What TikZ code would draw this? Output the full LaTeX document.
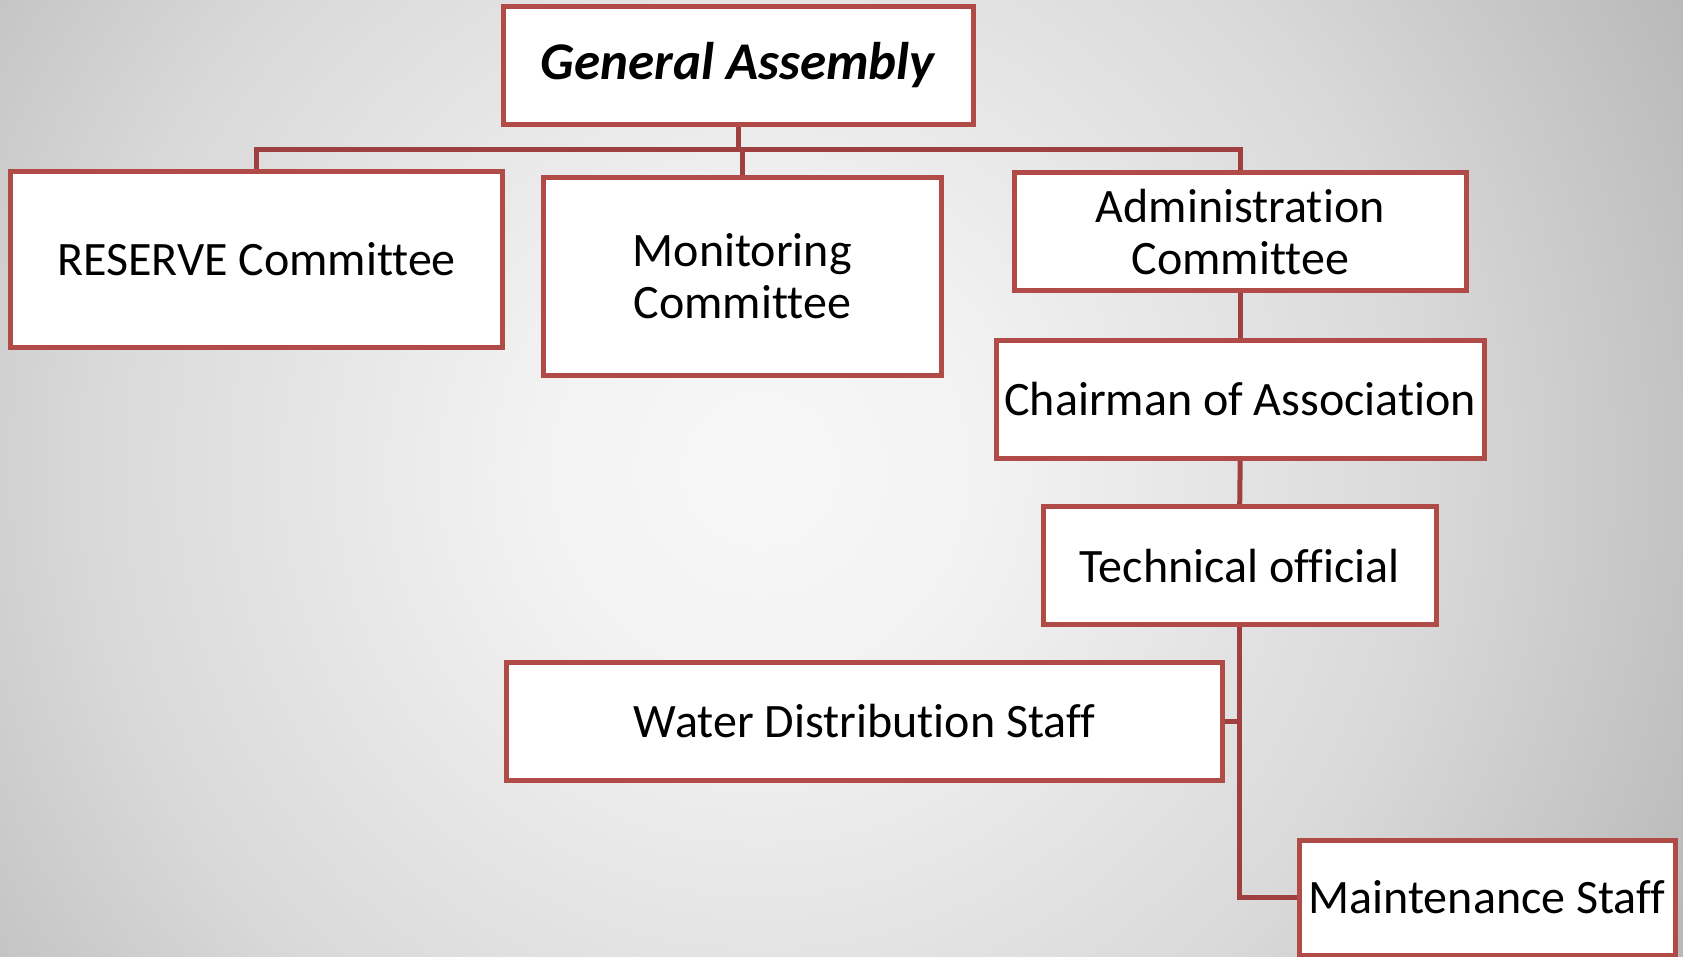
\documentclass[tikz,border=0pt]{standalone}
\usepackage{fontspec}
\setmainfont[Ligatures=NoCommon]{Carlito}
\definecolor{boxred}{HTML}{B04B48}
\definecolor{linered}{HTML}{A03F3F}
\pgfdeclareradialshading{bgshade}{\pgfpoint{0bp}{0bp}}{color(0bp)=(white!97!black); color(6bp)=(white!95!black); color(18bp)=(white!85!black); color(29bp)=(white!71!black); color(34bp)=(white!64!black); color(40bp)=(white!60!black); color(50bp)=(white!58!black)}
\begin{document}
\begin{tikzpicture}[x=1pt,y=-1pt,
  orgbox/.style={draw=boxred, line width=5pt, fill=white, inner sep=0pt, align=center,
    font=\fontsize{48}{52}\selectfont},
  conn/.style={draw=linered, line width=5pt}]
\useasboundingbox (0,0) rectangle (1683,956);
\begin{scope}
\clip (0,0) rectangle (1683,956);
\shade[shading=bgshade] (-170,-460) rectangle (1690,1400);
\end{scope}
% nodes
\node[orgbox, minimum width=470pt, minimum height=118pt, font=\fontsize{53}{58}\selectfont] (ga) at (738.5,65.5) {\textbf{\textit{General Assembly}}};
\node[orgbox, minimum width=491.6pt, minimum height=176pt] (res) at (256.5,259.5) {RESERVE Committee};
\node[orgbox, minimum width=398.3pt, minimum height=198.5pt] (mon) at (742.2,276.5) {Monitoring\\Committee};
\node[orgbox, minimum width=451.8pt, minimum height=118pt] (adm) at (1240.2,231.9) {Administration\\Committee};
\node[orgbox, minimum width=488.4pt, minimum height=118pt] (chair) at (1240.2,399.3) {Chairman of Association};
\node[orgbox, minimum width=392.9pt, minimum height=118pt] (tech) at (1239.7,565.7) {Technical official};
\node[orgbox, minimum width=715.9pt, minimum height=118pt] (wat) at (864.6,721.3) {Water Distribution Staff};
\node[orgbox, minimum width=376pt, minimum height=115pt] (maint) at (1487,897.5) {Maintenance Staff};
\coordinate (bar) at (0,149);
% connectors
\draw[conn] (ga.south) -- (ga.south |- bar);
\draw[conn] (res.north) -- (res.north |- bar) -- (adm.north |- bar) -- (adm.north);
\draw[conn] (mon.north) -- (mon.north |- bar);
\draw[conn] (adm.south) -- (chair.north);
\draw[conn] (chair.south) -- (tech.north);
\draw[conn] (tech.south) |- (maint.west);
\draw[conn] (wat.east) -- (wat.east -| tech.south);
\end{tikzpicture}
\end{document}
